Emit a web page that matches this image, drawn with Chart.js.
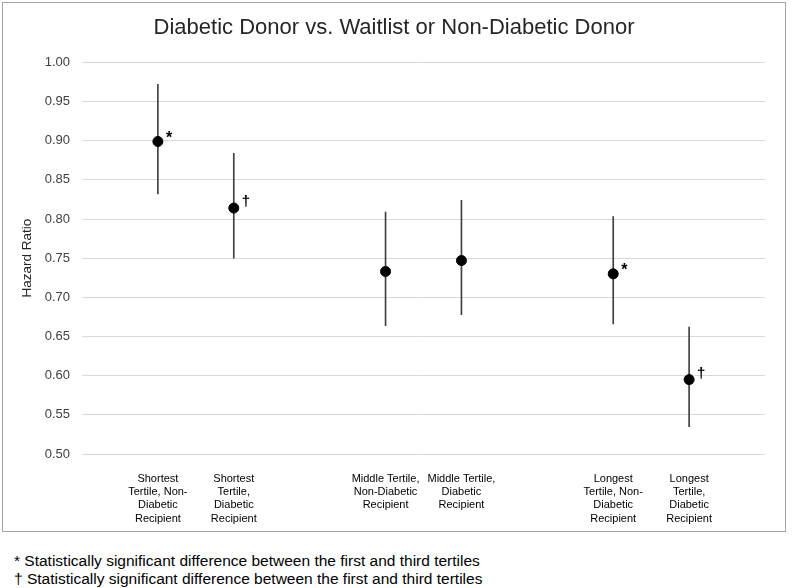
<!DOCTYPE html>
<html>
<head>
<meta charset="utf-8">
<script src="https://cdn.jsdelivr.net/npm/chart.js@4.4.1/dist/chart.umd.min.js"></script>
<style>
  body { margin: 0; background: #fff; font-family: "Liberation Sans", Arial, sans-serif; }
  #box { position: absolute; left: 2px; top: 2px; width: 782px; height: 528px; border: 1px solid #a6a6a6; }
  #notes { position: absolute; left: 14px; top: 552px; font-size: 15.5px; line-height: 18px; color: #000; }
</style>
</head>
<body>
<div id="box"><canvas id="chart" width="782" height="528"></canvas></div>
<div id="notes">
  <div>* Statistically significant difference between the first and third tertiles</div>
  <div>† Statistically significant difference between the first and third tertiles</div>
</div>
<script>
// Categories (tick labels, already wrapped like the original)
const categories = [
  ["Shortest", "Tertile, Non-", "Diabetic", "Recipient"],
  ["Shortest", "Tertile,", "Diabetic", "Recipient"],
  ["Middle Tertile,", "Non-Diabetic", "Recipient"],
  ["Middle Tertile,", "Diabetic", "Recipient"],
  ["Longest", "Tertile, Non-", "Diabetic", "Recipient"],
  ["Longest", "Tertile,", "Diabetic", "Recipient"],
];
// slot of each category on the x axis (gaps between tertiles)
const slots = [1, 2, 4, 5, 7, 8];

// Hazard ratios with confidence limits
const hazardRatio = [0.899, 0.814, 0.733, 0.747, 0.730, 0.595];
const lowerCI = [0.832, 0.750, 0.664, 0.678, 0.666, 0.535];
const upperCI = [0.972, 0.884, 0.809, 0.824, 0.803, 0.662];
const marks = ["*", "†", "", "", "*", "†"];

// y tick values
const yTicks = [0.5, 0.55, 0.6, 0.65, 0.7, 0.75, 0.8, 0.85, 0.9, 0.95, 1.0];

// Draw the * and † next to the points
const markPlugin = {
  id: "marks",
  afterDatasetsDraw(chart) {
    const ctx = chart.ctx;
    const xs = chart.scales.x;
    const ys = chart.scales.y;
    ctx.save();
    ctx.fillStyle = "#000";
    ctx.textBaseline = "middle";
    ctx.textAlign = "left";
    marks.forEach((m, i) => {
      if (!m) return;
      const px = xs.getPixelForValue(slots[i]);
      const py = ys.getPixelForValue(hazardRatio[i]);
      if (m === "*") {
        ctx.font = "bold 16px 'Liberation Sans'";
        ctx.fillText(m, px + 8, py - 3);
      } else {
        ctx.font = "bold 15px 'Liberation Sans'";
        ctx.fillText(m, px + 8, py - 6);
      }
    });
    ctx.restore();
  },
};

new Chart(document.getElementById("chart"), {
  type: "bar",
  data: {
    datasets: [
      {
        type: "bar",
        data: slots.map((s, i) => ({ x: s, y: [lowerCI[i], upperCI[i]] })),
        backgroundColor: "#404040",
        barThickness: 1,
        order: 2,
      },
      {
        type: "scatter",
        data: slots.map((s, i) => ({ x: s, y: hazardRatio[i] })),
        backgroundColor: "#000",
        borderColor: "#000",
        pointRadius: 5,
        pointHoverRadius: 5,
        order: 1,
      },
    ],
  },
  options: {
    responsive: false,
    animation: false,
    layout: { padding: { left: 10, right: 10 } },
    plugins: {
      legend: { display: false },
      tooltip: { enabled: false },
      title: {
        display: true,
        text: "Diabetic Donor vs. Waitlist or Non-Diabetic Donor",
        color: "#262626",
        font: { family: "'Liberation Sans'", size: 22, weight: "normal" },
        padding: { top: 12, bottom: 21 },
      },
    },
    scales: {
      x: {
        type: "linear",
        min: 0,
        max: 9,
        offset: false,
        grid: { display: false },
        border: { display: false },
        afterBuildTicks: (axis) => {
          axis.ticks = slots.map((v) => ({ value: v }));
        },
        afterFit: (axis) => {
          axis.height = 77;
        },
        ticks: {
          autoSkip: false,
          maxRotation: 0,
          padding: 10,
          color: "#000",
          font: { family: "'Liberation Sans'", size: 11, lineHeight: 1.21 },
          callback: (v) => categories[slots.indexOf(v)],
        },
      },
      y: {
        min: 0.5,
        max: 1.0,
        afterBuildTicks: (axis) => {
          axis.ticks = yTicks.map((v) => ({ value: v }));
        },
        afterFit: (axis) => {
          axis.width = 69;
        },
        grid: { color: "#d9d9d9", lineWidth: 1, drawTicks: false },
        border: { display: false },
        ticks: {
          padding: 12,
          color: "#404040",
          font: { family: "'Liberation Sans'", size: 13 },
          callback: (v) => v.toFixed(2),
        },
        title: {
          display: true,
          text: "Hazard Ratio",
          color: "#262626",
          font: { family: "'Liberation Sans'", size: 13.5 },
          padding: { top: 6 },
        },
      },
      // empty right-hand spacer so the plot ends where the original does
      y2: {
        position: "right",
        min: 0.5,
        max: 1.0,
        grid: { display: false },
        border: { display: false },
        ticks: { display: false },
        afterFit: (axis) => {
          axis.width = 10;
        },
      },
    },
  },
  plugins: [markPlugin],
});
</script>
</body>
</html>
